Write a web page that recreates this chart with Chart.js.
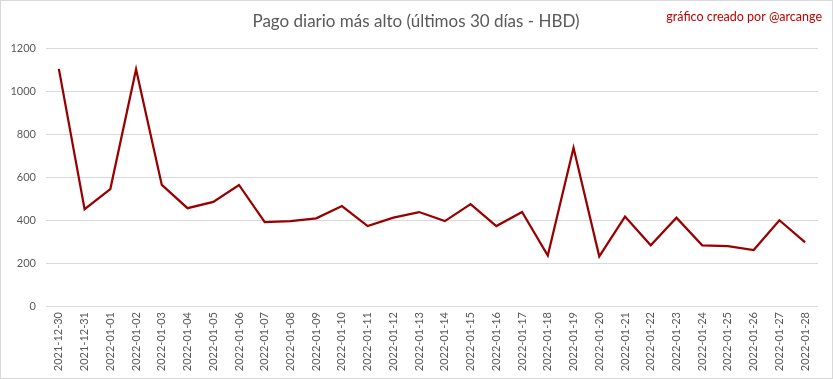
<!DOCTYPE html>
<html>
<head>
<meta charset="utf-8">
<script src="https://cdn.jsdelivr.net/npm/chart.js@4/dist/chart.umd.min.js"></script>
<style>
  html, body { margin: 0; padding: 0; background: #ffffff; }
  #wrap { position: relative; width: 833px; height: 379px; box-sizing: border-box; border: 1px solid #d9d9d9; }
  canvas { display: block; }
</style>
</head>
<body>
<div id="wrap"><canvas id="c" width="831" height="377"></canvas></div>
<script>
const categories = [
  "2021-12-30","2021-12-31","2022-01-01","2022-01-02","2022-01-03","2022-01-04",
  "2022-01-05","2022-01-06","2022-01-07","2022-01-08","2022-01-09","2022-01-10",
  "2022-01-11","2022-01-12","2022-01-13","2022-01-14","2022-01-15","2022-01-16",
  "2022-01-17","2022-01-18","2022-01-19","2022-01-20","2022-01-21","2022-01-22",
  "2022-01-23","2022-01-24","2022-01-25","2022-01-26","2022-01-27","2022-01-28"
];
const pagoMaximo = [
  1103, 450, 544, 1101, 563, 455,
  484, 563, 390, 395, 408, 465,
  372, 411, 437, 395, 474, 372,
  437, 235, 736, 231, 416, 282,
  411, 282, 278, 260, 399, 296
];
const yTicks = [0, 200, 400, 600, 800, 1000, 1200];
const titleText = "Pago diario más alto (últimos 30 días - HBD)";
const creditText = "gráfico creado por @arcange";

const FONT = "Lato, 'Open Sans', 'Liberation Sans', sans-serif";

const textPlugin = {
  id: 'texts',
  afterDraw(chart) {
    const ctx = chart.ctx;
    ctx.save();
    ctx.textBaseline = 'middle';
    ctx.fillStyle = '#595959';
    ctx.font = "17px " + FONT;
    ctx.textAlign = 'center';
    ctx.fillText(titleText, 415, 21);
    ctx.fillStyle = '#c00000';
    ctx.font = "12.5px " + FONT;
    ctx.textAlign = 'right';
    ctx.fillText(creditText, 821, 16);
    ctx.restore();
  }
};

new Chart(document.getElementById('c'), {
  type: 'line',
  data: {
    labels: categories,
    datasets: [{
      data: pagoMaximo,
      borderColor: '#990000',
      backgroundColor: '#990000',
      borderWidth: 2.25,
      pointRadius: 0,
      tension: 0,
      fill: false
    }]
  },
  options: {
    responsive: false,
    animation: false,
    layout: { padding: { top: 47, left: 0, right: 14, bottom: 0 } },
    plugins: { legend: { display: false }, title: { display: false }, tooltip: { enabled: false } },
    scales: {
      x: {
        offset: true,
        grid: { display: false, drawTicks: false },
        border: { display: false },
        ticks: {
          color: '#595959',
          font: { family: FONT, size: 11 },
          maxRotation: 90, minRotation: 90,
          autoSkip: false,
          padding: 6
        },
        afterFit(scale) { scale.height = 72; }
      },
      y: {
        min: 0, max: 1200,
        afterBuildTicks(scale) { scale.ticks = yTicks.map(v => ({ value: v })); },
        grid: { color: '#d9d9d9', drawTicks: false, lineWidth: 1 },
        border: { display: false },
        ticks: {
          color: '#595959',
          font: { family: FONT, size: 11 },
          padding: 10,
          callback: (v) => String(v)
        },
        afterFit(scale) { scale.width = 45; }
      }
    }
  },
  plugins: [textPlugin]
});
</script>
</body>
</html>
